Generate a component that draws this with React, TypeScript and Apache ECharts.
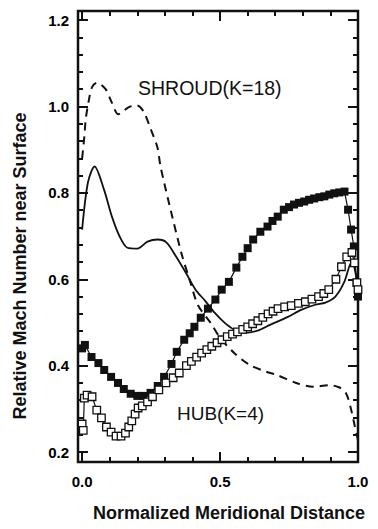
import React, { useEffect, useRef } from "react";
import * as echarts from "echarts";

// Axis extents and tick spacing
const xRange = [-0.015, 1.0];
const yRange = [0.177, 1.221];
const xTickSpan = [0, 1.0];
const yTickSpan = [0.2, 1.2];
const xMinorStep = 0.1;
const xMajorStep = 0.5;
const yMinorStep = 0.04;
const yMajorStep = 0.2;

// Shroud (K=18), dashed curve: [meridional distance, relative Mach number]
const shroudDashed: [number, number][] = [
  [0.0, 0.88], [0.008, 0.93], [0.013, 0.97], [0.023, 1.01], [0.036, 1.045],
  [0.054, 1.055], [0.085, 1.04], [0.107, 1.01], [0.131, 0.982], [0.168, 0.998],
  [0.197, 1.003], [0.222, 0.989], [0.249, 0.947], [0.273, 0.905], [0.283, 0.865],
  [0.295, 0.83], [0.321, 0.76], [0.36, 0.66], [0.393, 0.592], [0.42, 0.54],
  [0.466, 0.499], [0.5, 0.465], [0.55, 0.43], [0.607, 0.402], [0.668, 0.386],
  [0.704, 0.379], [0.776, 0.36], [0.837, 0.351], [0.895, 0.355], [0.931, 0.35],
  [0.956, 0.337], [0.973, 0.304], [0.989, 0.258], [1.0, 0.228],
];

// Shroud (K=18), solid curve
const shroudSolid: [number, number][] = [
  [0.0, 0.715], [0.021, 0.824], [0.045, 0.861], [0.079, 0.808], [0.108, 0.745],
  [0.136, 0.699], [0.164, 0.673], [0.2, 0.671], [0.237, 0.687], [0.274, 0.692],
  [0.306, 0.685], [0.341, 0.652], [0.376, 0.615], [0.411, 0.576], [0.446, 0.55],
  [0.481, 0.522], [0.517, 0.499], [0.552, 0.483], [0.588, 0.476], [0.636, 0.481],
  [0.683, 0.495], [0.746, 0.513], [0.794, 0.529], [0.845, 0.541], [0.882, 0.546],
  [0.918, 0.56], [0.949, 0.592], [0.977, 0.641], [1.0, 0.58],
];

// Hub (K=4), filled squares
const hubFilled: [number, number][] = [
  [0.0, 0.44], [0.01, 0.448], [0.034, 0.42], [0.059, 0.406], [0.08, 0.39],
  [0.105, 0.374], [0.13, 0.36], [0.151, 0.346], [0.176, 0.335], [0.2, 0.33],
  [0.222, 0.33], [0.248, 0.337], [0.274, 0.353], [0.297, 0.374], [0.324, 0.404],
  [0.343, 0.432], [0.37, 0.46], [0.39, 0.475], [0.407, 0.49], [0.43, 0.511],
  [0.456, 0.532], [0.483, 0.553], [0.506, 0.576], [0.532, 0.594], [0.559, 0.627],
  [0.581, 0.652], [0.6, 0.672], [0.62, 0.692], [0.646, 0.71], [0.672, 0.722],
  [0.69, 0.735], [0.709, 0.745], [0.731, 0.761], [0.75, 0.767], [0.768, 0.773],
  [0.786, 0.777], [0.805, 0.78], [0.823, 0.784], [0.841, 0.787], [0.86, 0.79],
  [0.878, 0.792], [0.896, 0.796], [0.914, 0.799], [0.932, 0.801], [0.951, 0.803],
  [0.964, 0.761], [0.975, 0.715], [0.985, 0.676], [0.995, 0.592], [1.0, 0.56],
];

// Hub (K=4), open squares
const hubOpen: [number, number][] = [
  [0.0, 0.265], [0.004, 0.25], [0.008, 0.325], [0.018, 0.332], [0.036, 0.328],
  [0.053, 0.297], [0.07, 0.279], [0.088, 0.258], [0.105, 0.246], [0.123, 0.237],
  [0.141, 0.237], [0.157, 0.244], [0.169, 0.258], [0.18, 0.272], [0.192, 0.288],
  [0.203, 0.302], [0.218, 0.307], [0.237, 0.316], [0.255, 0.328], [0.278, 0.344],
  [0.304, 0.36], [0.33, 0.372], [0.352, 0.383], [0.378, 0.4], [0.396, 0.41],
  [0.415, 0.42], [0.433, 0.429], [0.452, 0.437], [0.47, 0.445], [0.489, 0.453],
  [0.507, 0.46], [0.526, 0.467], [0.545, 0.473], [0.563, 0.478], [0.582, 0.484],
  [0.6, 0.49], [0.618, 0.497], [0.637, 0.504], [0.655, 0.512], [0.674, 0.52],
  [0.692, 0.526], [0.71, 0.532], [0.734, 0.536], [0.758, 0.539], [0.784, 0.544],
  [0.809, 0.548], [0.833, 0.554], [0.857, 0.56], [0.876, 0.567], [0.894, 0.576],
  [0.92, 0.6], [0.94, 0.629], [0.959, 0.652], [0.978, 0.662], [0.987, 0.638],
  [0.996, 0.592], [1.0, 0.576],
];

const INK = "#111";
const FONT = "'Liberation Sans', Arial, Helvetica, sans-serif";
const W = 378;
const H = 529;
const PLOT = { left: 78, right: 20, top: 11, bottom: 67 };

// Pixel position of a data value along the main plot's axes
const plotW = W - PLOT.left - PLOT.right;
const plotH = H - PLOT.top - PLOT.bottom;
const xPix = (v: number) =>
  PLOT.left + ((v - xRange[0]) / (xRange[1] - xRange[0])) * plotW;
const yPix = (v: number) =>
  PLOT.top + ((yRange[1] - v) / (yRange[1] - yRange[0])) * plotH;

const tickLabel = {
  show: true,
  formatter: (v: number) => v.toFixed(1),
  color: "#000",
  fontFamily: FONT,
  fontWeight: "bold",
  fontSize: 15,
};

// Hidden axis carrying only the data scale
function plainAxis(gridIndex: number, range: number[]) {
  return {
    type: "value",
    gridIndex,
    min: range[0],
    max: range[1],
    axisLine: { show: false },
    axisTick: { show: false },
    axisLabel: { show: false },
    splitLine: { show: false },
  };
}

// Tick-only axis: ticks point into the plot from the frame side
function tickAxis(
  gridIndex: number,
  side: string,
  span: number[],
  step: number,
  len: number,
  labelMargin?: number
) {
  return {
    type: "value",
    gridIndex,
    position: side,
    min: span[0],
    max: span[1],
    interval: step,
    axisLine: { show: false, onZero: false },
    axisTick: { show: true, inside: true, length: len, lineStyle: { color: INK, width: 2 } },
    axisLabel: labelMargin !== undefined ? { ...tickLabel, margin: labelMargin } : { show: false },
    splitLine: { show: false },
  };
}

export default function App() {
  const ref = useRef<HTMLDivElement>(null);

  useEffect(() => {
    if (!ref.current) return;
    const chart = echarts.init(ref.current, undefined, { renderer: "svg" });

    const lineSeries = (data: [number, number][], extra: Record<string, unknown>) => ({
      type: "line",
      xAxisIndex: 0,
      yAxisIndex: 0,
      data,
      clip: false,
      ...extra,
    });

    chart.setOption({
      animation: false,
      backgroundColor: "#fff",
      grid: [
        // data area with its boxed frame
        { ...PLOT, show: true, borderColor: INK, borderWidth: 2.5, backgroundColor: "transparent" },
        // horizontal ticks, spanning 0.0 .. 1.0
        { left: xPix(xTickSpan[0]), right: W - xPix(xTickSpan[1]), top: PLOT.top, bottom: PLOT.bottom },
        // vertical ticks, spanning 0.2 .. 1.2
        { left: PLOT.left, right: PLOT.right, top: yPix(yTickSpan[1]), bottom: H - yPix(yTickSpan[0]) },
      ],
      xAxis: [
        plainAxis(0, xRange),
        tickAxis(1, "bottom", xTickSpan, xMinorStep, 5),
        tickAxis(1, "bottom", xTickSpan, xMajorStep, 10, 12),
        tickAxis(1, "top", xTickSpan, xMinorStep, 5),
        tickAxis(1, "top", xTickSpan, xMajorStep, 10),
        plainAxis(2, [0, 1]),
      ],
      yAxis: [
        plainAxis(0, yRange),
        tickAxis(2, "left", yTickSpan, yMinorStep, 5),
        tickAxis(2, "left", yTickSpan, yMajorStep, 10, 9),
        tickAxis(2, "right", yTickSpan, yMinorStep, 5),
        tickAxis(2, "right", yTickSpan, yMajorStep, 10),
        plainAxis(1, [0, 1]),
      ],
      series: [
        lineSeries(shroudDashed, {
          name: "Shroud dashed",
          smooth: 0.3,
          showSymbol: false,
          symbol: "none",
          lineStyle: { color: INK, width: 2, type: [8, 6] },
        }),
        lineSeries(shroudSolid, {
          name: "Shroud solid",
          smooth: 0.3,
          showSymbol: false,
          symbol: "none",
          lineStyle: { color: INK, width: 1.8 },
        }),
        lineSeries(hubFilled, {
          name: "Hub filled",
          symbol: "rect",
          symbolSize: 8,
          itemStyle: { color: INK },
          lineStyle: { color: INK, width: 1.2 },
        }),
        lineSeries(hubOpen, {
          name: "Hub open",
          symbol: "rect",
          symbolSize: 7.5,
          itemStyle: { color: "#fff", borderColor: INK, borderWidth: 1.3 },
          lineStyle: { color: INK, width: 1.2 },
        }),
      ],
      graphic: [
        {
          type: "text",
          x: 138,
          y: 88,
          style: {
            text: "SHROUD(K=18)",
            fill: INK,
            font: `19.5px ${FONT}`,
            align: "left",
            verticalAlign: "middle",
          },
        },
        {
          type: "text",
          x: 177,
          y: 413,
          style: {
            text: "HUB(K=4)",
            fill: INK,
            font: `19px ${FONT}`,
            align: "left",
            verticalAlign: "middle",
          },
        },
        {
          type: "text",
          x: 229,
          y: 513,
          style: {
            text: "Normalized Meridional Distance",
            fill: INK,
            font: `bold 18px ${FONT}`,
            align: "center",
            verticalAlign: "middle",
          },
        },
        {
          type: "text",
          x: 20,
          y: 266,
          rotation: Math.PI / 2,
          style: {
            text: "Relative Mach Number near Surface",
            fill: INK,
            font: `bold 18px ${FONT}`,
            align: "center",
            verticalAlign: "middle",
          },
        },
      ],
    });

    return () => chart.dispose();
  }, []);

  return (
    <div
      ref={ref}
      style={{ position: "fixed", left: 0, top: 0, width: W, height: H, background: "#fff" }}
    />
  );
}
